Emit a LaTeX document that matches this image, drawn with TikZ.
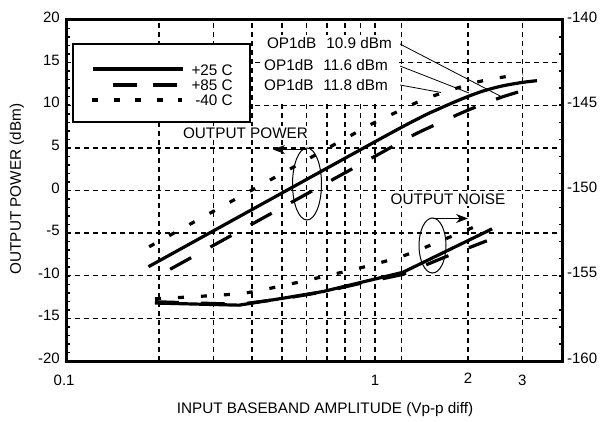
\documentclass[tikz,border=0pt]{standalone}
\usepackage{fontspec}
\setmainfont{Liberation Sans}
\usetikzlibrary{arrows.meta}
\begin{document}
\begin{tikzpicture}[x=1pt,y=1pt,
  txt/.style={font=\fontsize{15.3}{18}\selectfont, inner sep=0pt},
  ticklbl/.style={font=\fontsize{15}{18}\selectfont, inner sep=0pt},
  gridline/.style={line width=1.4pt, dash pattern=on 5pt off 4pt},
  curve/.style={line width=3.2pt},
  c85/.style={curve, dash pattern=on 24pt off 22pt},
  c40/.style={curve, dash pattern=on 6pt off 17pt},
  leader/.style={line width=0.8pt},
  callout/.style={line width=1pt},
  calloutarrow/.style={line width=1pt, -{Stealth[length=12pt,width=9pt]}},
  tickmark/.style={line width=1.5pt}]
\useasboundingbox (0,0) rectangle (600,421);
\fill[white] (0,0) rectangle (600,421);

\begin{scope}[shift={(375,230.5)}, x=309pt, y=8.525pt]
  % grid
  \foreach \L in {-0.699,-0.523,-0.398,-0.301,-0.222,-0.155,-0.097,-0.046,0,0.085,0.301,0.477}
    \draw[gridline] (\L,-20) -- (\L,20);
  \foreach \v in {-15,-10,...,15}
    \draw[gridline] (-1,\v) -- (0.608,\v);
  % ticks
  \foreach \v in {-19,...,19}
    \draw[tickmark] (-1,\v) -- ++(4pt,0);
  \foreach \v in {-18,-16,...,18}
    \draw[tickmark] (0.608,\v) -- ++(-4pt,0);
  % tick labels
  \foreach \v in {20,15,...,-20}
    \node[ticklbl, anchor=east] at ([xshift=-6pt,yshift=2.5pt]-1,\v) {\v};
  \foreach \v/\t in {20/-140,10/-145,0/-150,-10/-155,-20/-160}
    \node[ticklbl, anchor=west] at ([xshift=4pt,yshift=3pt]0.608,\v) {\t};
  \node[ticklbl] (b01) at ([yshift=-19pt]-1.006,-20) {0.1};
  \node[ticklbl] (b1) at ([yshift=-19pt]0,-20) {1};
  \node[ticklbl] (b2) at ([yshift=-17pt]0.301,-20) {2};
  \node[ticklbl] (b3) at ([yshift=-19pt]0.477,-20) {3};
\end{scope}

% white areas behind labels
\fill[white] (261,318) rectangle (398,386);
\node[txt, fill=white, inner sep=2pt] (lpow) at (245.5,288) {OUTPUT POWER};
\node[txt, fill=white, inner sep=2pt] (lnoise) at (448,222) {OUTPUT NOISE};
\node[txt, anchor=east] (opA) at (392,378) {OP1dB\hspace{0.65em}10.9 dBm};
\node[txt, anchor=east] (opB) at (388,356) {OP1dB\hspace{0.65em}11.6 dBm};
\node[txt, anchor=east] (opC) at (388,336) {OP1dB\hspace{0.65em}11.8 dBm};

% legend
\draw[line width=2pt, fill=white] (73,299) rectangle (250,377);
\draw[curve] (93,352) -- (183,352);
\draw[curve, dash pattern=on 24pt off 16pt] (113,336) -- (177,336);
\draw[curve, dash pattern=on 6pt off 15.5pt] (92,321) -- (182,321);
\node[txt, anchor=east] (l25) at (233,351) {+25 C};
\node[txt, anchor=east] (l85) at (233,336) {+85 C};
\node[txt, anchor=east] (l40) at (233,321) {-40 C};

% curves
\begin{scope}[shift={(375,230.5)}, x=309pt, y=8.525pt]
  % output power
  \draw[curve] plot[smooth, tension=0.5] coordinates {(-0.733,-8.94) (0.0,5.72) (0.15,8.62) (0.2,9.47) (0.25,10.27) (0.30,11.02) (0.35,11.67) (0.41,12.25) (0.477,12.68) (0.524,12.88)};
  \draw[c85] plot[smooth, tension=0.5] coordinates {(-0.663,-9.24) (0.0,4.02) (0.12,6.42) (0.2,7.8) (0.28,9.1) (0.34,10.0) (0.41,10.95) (0.463,11.55)};
  \draw[c40] plot[smooth, tension=0.5] coordinates {(-0.731,-6.6) (-0.1,6.02) (0.0,8.0) (0.07,9.2) (0.146,10.5) (0.217,11.45) (0.282,12.2) (0.34,12.8) (0.414,13.3) (0.479,13.7)};
  % output noise
  \draw[curve, line join=round] (-0.712,-13.2) -- (-0.44,-13.45) -- (-0.3,-12.65) -- (-0.168,-11.85) -- (-0.042,-10.75) -- (0.09,-9.6) -- (0.379,-4.5);
  \draw[c85, line join=round] (-0.712,-13.05) -- (-0.44,-13.35) -- (-0.3,-12.7) -- (-0.168,-11.9) -- (-0.042,-10.85) -- (0.09,-9.85) -- (0.227,-7.8) -- (0.362,-5.9);
  \draw[c40] plot[smooth, tension=0.5] coordinates {(-0.712,-12.7) (-0.44,-12.1) (-0.304,-11.2) (-0.168,-10.1) (-0.039,-9.0) (0.097,-7.6) (0.233,-5.6) (0.366,-3.6)};
\end{scope}

% leader lines
\coordinate (pA) at (502,324);
\coordinate (pB) at (469,328);
\coordinate (pC) at (441,328.5);
\draw[leader] ([xshift=8pt,yshift=-1pt]opA.east) -- (pA);
\draw[leader] ([xshift=12pt,yshift=-1pt]opB.east) -- (pB);
\draw[leader] ([xshift=12pt]opC.east) -- (pC);

% callout ellipses and arrows
\draw[callout] (307,237) ellipse [x radius=14.5, y radius=36];
\coordinate (e1top) at (307,271.5);
\coordinate (a1tip) at (273,271.5);
\draw[calloutarrow] (e1top) -- (a1tip);
\draw[callout] (432.5,175.5) ellipse [x radius=13.5, y radius=27.5];
\coordinate (e2top) at (433,202.5);
\coordinate (a2tip) at (468,202.5);
\draw[calloutarrow] (e2top) -- (a2tip);

% axis titles
\node[txt, rotate=90] (ylab) at (17,232) {OUTPUT POWER (dBm)};
\node[txt] (xlab) at (325,11) {INPUT BASEBAND AMPLITUDE (Vp-p diff)};

% frame
\begin{scope}[shift={(375,230.5)}, x=309pt, y=8.525pt]
  \draw[line width=3pt] (-1,-20) rectangle (0.608,20);
\end{scope}
\end{tikzpicture}
\end{document}
